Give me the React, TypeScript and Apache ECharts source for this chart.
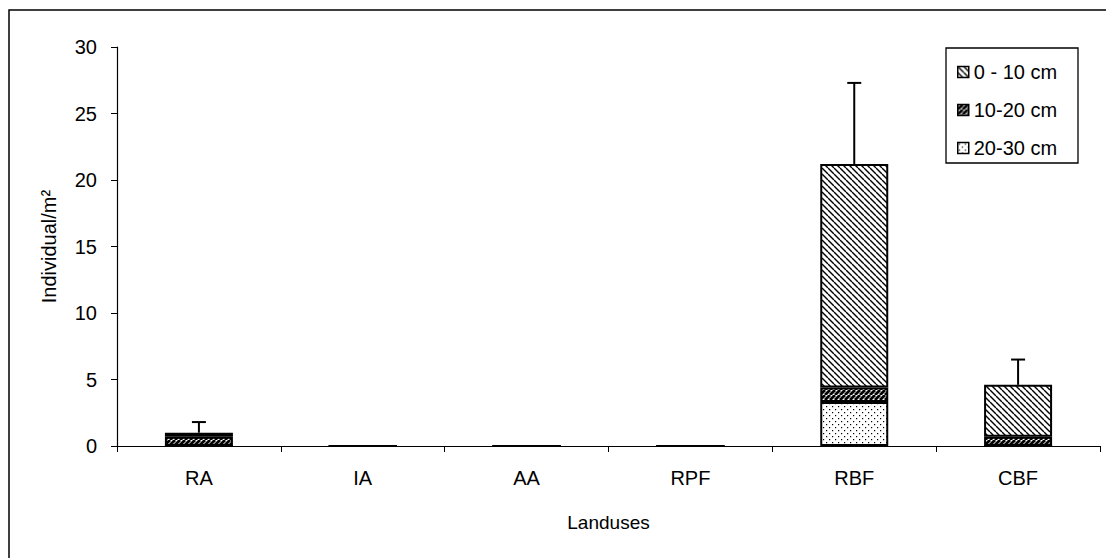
import React, { useEffect, useRef } from "react";
import * as echarts from "echarts";

const categories = ["RA", "IA", "AA", "RPF", "RBF", "CBF"];
const seriesNames = ["0 - 10 cm", "10-20 cm", "20-30 cm"];
const depth0to10 = [0.3, 0, 0, 0, 16.8, 3.9];
const depth10to20 = [0.7, 0, 0, 0, 1.1, 0.7];
const depth20to30 = [0, 0, 0, 0, 3.3, 0];
const errorUpper = [1.8, null, null, null, 27.3, 6.5];
const yTicks = { min: 0, max: 30, interval: 5 };

const FONT = "'Liberation Sans', Arial, sans-serif";

function makePattern(kind: string): HTMLCanvasElement {
  const c = document.createElement("canvas");
  const s = kind === "dots" ? 6 : kind === "dense" ? 5 : 6;
  c.width = s;
  c.height = s;
  const ctx = c.getContext("2d")!;
  ctx.fillStyle = "#fff";
  ctx.fillRect(0, 0, s, s);
  ctx.strokeStyle = "#000";
  ctx.fillStyle = "#000";
  if (kind === "back") {
    ctx.lineWidth = 1.4;
    for (const k of [-s, 0, s]) {
      ctx.beginPath();
      ctx.moveTo(k, 0);
      ctx.lineTo(k + s, s);
      ctx.stroke();
    }
  } else if (kind === "dense") {
    ctx.lineWidth = 2.8;
    for (const k of [-s, 0, s]) {
      ctx.beginPath();
      ctx.moveTo(k, s);
      ctx.lineTo(k + s, 0);
      ctx.stroke();
    }
  } else {
    ctx.fillRect(1, 1, 1.2, 1.2);
    ctx.fillRect(4, 4, 1.2, 1.2);
  }
  return c;
}

export default function App() {
  const ref = useRef<HTMLDivElement>(null);
  useEffect(() => {
    if (!ref.current) return;
    const chart = echarts.init(ref.current, undefined, { renderer: "svg" });
    const pats = {
      back: { image: makePattern("back"), repeat: "repeat" },
      dense: { image: makePattern("dense"), repeat: "repeat" },
      dots: { image: makePattern("dots"), repeat: "repeat" },
    };
    const barCommon = {
      type: "bar",
      stack: "total",
      barWidth: 68,
    };
    const errData = errorUpper
      .map((e, i) =>
        e == null ? null : [i, depth0to10[i] + depth10to20[i] + depth20to30[i], e]
      )
      .filter((d) => d != null);
    chart.setOption({
      animation: false,
      textStyle: { fontFamily: FONT, color: "#000" },
      grid: { left: 117, right: 6, top: 47, bottom: 112, containLabel: false },
      graphic: [
        {
          type: "rect",
          shape: { x: 9, y: 10, width: 1200, height: 700 },
          style: { fill: "none", stroke: "#000", lineWidth: 1.5 },
          silent: true,
        },
        {
          type: "rect",
          shape: { x: 946, y: 48, width: 132, height: 115 },
          style: { fill: "#fff", stroke: "#000", lineWidth: 1.3 },
          z: 5,
          silent: true,
        },
      ],
      legend: {
        orient: "vertical",
        left: 952,
        top: 57,
        data: seriesNames,
        icon: "rect",
        itemWidth: 11,
        itemHeight: 11,
        itemGap: 18,
        z: 10,
        textStyle: { fontFamily: FONT, fontSize: 20, color: "#000", lineHeight: 20 },
        itemStyle: { borderColor: "#000", borderWidth: 1.5 },
      },
      xAxis: {
        type: "category",
        data: categories,
        boundaryGap: true,
        name: "Landuses",
        nameLocation: "middle",
        nameGap: 67,
        nameTextStyle: { fontFamily: FONT, fontSize: 19, color: "#000" },
        axisLine: { lineStyle: { color: "#000", width: 1.2 } },
        axisTick: { show: true, length: 6, interval: 0, lineStyle: { color: "#000" } },
        axisLabel: { fontFamily: FONT, fontSize: 20, color: "#000", margin: 22, interval: 0 },
        splitLine: { show: false },
      },
      yAxis: {
        type: "value",
        min: yTicks.min,
        max: yTicks.max,
        interval: yTicks.interval,
        name: "Individual/m²",
        nameLocation: "middle",
        nameGap: 58,
        nameTextStyle: { fontFamily: FONT, fontSize: 20, color: "#000" },
        axisLine: { show: true, lineStyle: { color: "#000", width: 1.2 } },
        axisTick: { show: true, length: 6, lineStyle: { color: "#000" } },
        axisLabel: { fontFamily: FONT, fontSize: 20, color: "#000", margin: 20 },
        splitLine: { show: false },
      },
      series: [
        {
          ...barCommon,
          name: seriesNames[2],
          data: depth20to30,
          itemStyle: { color: pats.dots, borderColor: "#000", borderWidth: 2 },
        },
        {
          ...barCommon,
          name: seriesNames[1],
          data: depth10to20,
          itemStyle: { color: pats.dense, borderColor: "#000", borderWidth: 2 },
        },
        {
          ...barCommon,
          name: seriesNames[0],
          data: depth0to10,
          itemStyle: { color: pats.back, borderColor: "#000", borderWidth: 2 },
        },
        {
          type: "custom",
          name: "error",
          data: errData,
          z: 3,
          renderItem: (params: any, api: any) => {
            const x = api.value(0);
            const base = api.coord([x, api.value(1)]);
            const top = api.coord([x, api.value(2)]);
            return {
              type: "group",
              children: [
                {
                  type: "line",
                  shape: { x1: base[0], y1: base[1], x2: top[0], y2: top[1] },
                  style: { stroke: "#000", lineWidth: 2 },
                },
                {
                  type: "line",
                  shape: { x1: top[0] - 7, y1: top[1], x2: top[0] + 7, y2: top[1] },
                  style: { stroke: "#000", lineWidth: 2 },
                },
              ],
            };
          },
        },
      ],
    });
    return () => chart.dispose();
  }, []);
  return (
    <div
      ref={ref}
      style={{ position: "fixed", left: 0, top: 0, width: 1106, height: 558, background: "#fff" }}
    />
  );
}
